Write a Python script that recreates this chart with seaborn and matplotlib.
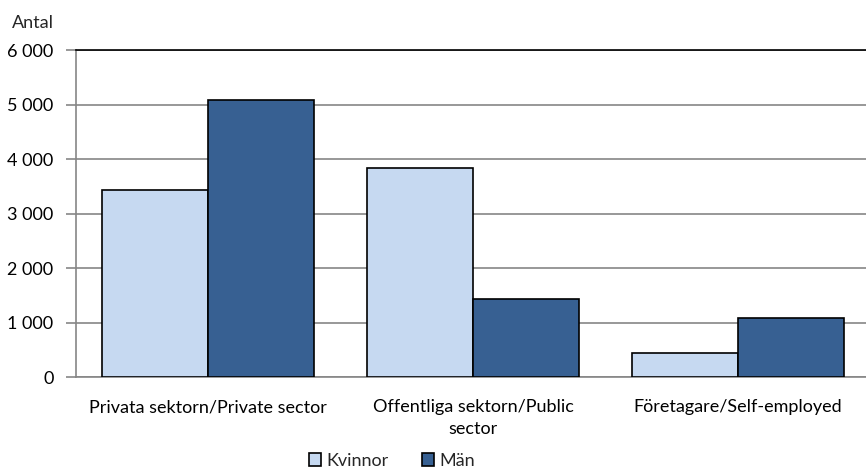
import matplotlib
matplotlib.use("Agg")
import matplotlib.pyplot as plt
import seaborn as sns
import pandas as pd
from matplotlib.ticker import FuncFormatter

categories = ["Privata sektorn/Private sector", "Offentliga sektorn/Public\nsector", "Företagare/Self-employed"]
series = ["Kvinnor", "Män"]
kvinnor = [3425, 3830, 435]
man = [5090, 1430, 1075]
colors = ["#C6D9F1", "#376092"]

df = pd.DataFrame({
    "cat": categories * 2,
    "kon": [series[0]] * 3 + [series[1]] * 3,
    "val": kvinnor + man,
})

sns.set_theme(style="white")
plt.rcParams["font.family"] = ["Lato", "DejaVu Sans"]
FS = 13

fig = plt.figure(figsize=(8.66, 4.71), dpi=100)
ax = fig.add_axes([75.7 / 866, 1 - 377 / 471, (866 - 75.7) / 866, (377 - 50) / 471])

sns.barplot(data=df, x="cat", y="val", hue="kon", palette=colors, width=0.8, saturation=1,
            edgecolor="black", linewidth=1.2, ax=ax, zorder=3, legend=True)

ax.set_ylim(0, 6000)
ax.set_xlim(-0.5, 2.5 - 4.3 / 264.7)
ax.set_yticks(range(0, 6001, 1000))
ax.yaxis.set_major_formatter(FuncFormatter(lambda v, p: f"{int(v):,}".replace(",", " ")))
ax.grid(axis="y", color="#868686", linewidth=1.2, zorder=0)
ax.set_axisbelow(True)
ax.set_xlabel("")
ax.set_ylabel("")

for s in ["left", "bottom"]:
    ax.spines[s].set_color("#868686")
    ax.spines[s].set_linewidth(1.2)
ax.spines["top"].set_color("black")
ax.spines["top"].set_linewidth(1.2)
ax.spines["right"].set_visible(False)

ax.tick_params(axis="y", which="major", left=True, length=7, width=1.2, color="#868686",
               labelsize=FS, pad=9, labelcolor="black")
ax.tick_params(axis="x", bottom=False, labelsize=FS, pad=10, labelcolor="black")
for lab in ax.get_xticklabels():
    lab.set_linespacing(1.45)

ax.get_legend().remove()
handles, labels = ax.get_legend_handles_labels()
fig.legend(handles[:2], labels[:2], loc="center", bbox_to_anchor=(392 / 866, 1 - 461 / 471),
           ncol=2, frameon=False, fontsize=FS, handlelength=0.7, handleheight=0.7,
           handletextpad=0.3, columnspacing=1.8, borderpad=0)

fig.text(12 / 866, 1 - 23 / 471, "Antal", fontsize=FS, va="center", ha="left")

fig.savefig("out.png", dpi=100)
